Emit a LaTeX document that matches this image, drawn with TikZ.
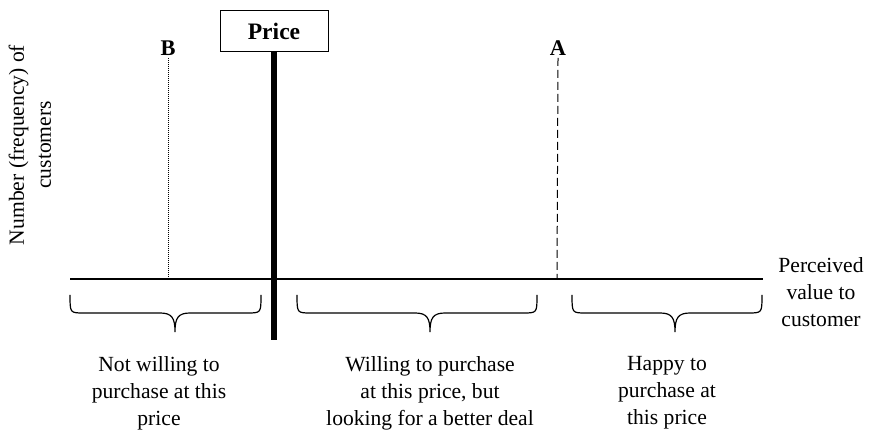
\documentclass[tikz,border=0pt]{standalone}
\usepackage{fontspec}
\setmainfont{Liberation Serif}

\tikzset{
  label text/.style={align=center, font=\fontsize{10.8}{13.5}\selectfont},
  letter/.style={font=\fontsize{11.2}{13}\selectfont\bfseries, inner sep=1pt},
  price box/.style={draw, line width=0.5pt, minimum width=54pt, minimum height=20.5pt,
    inner sep=0pt, font=\fontsize{11.8}{13}\selectfont\bfseries},
  curly/.style={line width=0.6pt},
}
% under-brace: left end, tip, right end (x), ends at y=295, tip at y=332
\newcommand{\groupbrace}[3]{%
  \draw[curly] (#1,295) .. controls (#1,313) .. ({#1+14},313) -- ({#2-15},313)
    .. controls ({#2-3},313) and (#2,318) .. (#2,332)
    .. controls (#2,318) and ({#2+3},313) .. ({#2+15},313) -- ({#3-14},313)
    .. controls (#3,313) .. (#3,295);}

\begin{document}
\begin{tikzpicture}[x=0.5pt,y=-0.5pt]
\useasboundingbox (0,0) rectangle (870,431);

% axis
\coordinate (origin) at (70,279);
\coordinate (axisend) at (763,279);
\draw[line width=0.6pt] (origin) -- (axisend);
\node[label text] (xlabel) at (821,292) {Perceived\\value to\\customer};
\node[label text, rotate=90] (ylabel) at (30,145) {Number (frequency) of\\customers};

% price
\node[price box] (price) at (274,31.5) {Price};
\coordinate (pricebot) at (274,340);
\draw[line width=2.6pt] (price.south) -- (pricebot);

% B and A
\node[letter] (B) at (168,48) {B};
\coordinate (Bfoot) at (168,279);
\draw[line width=0.35pt, dash pattern=on 0.5pt off 0.5pt] (B.south) -- (Bfoot);
\node[letter] (A) at (558,48) {A};
\coordinate (Afoot) at (557,279);
\draw[line width=0.5pt, dash pattern=on 4pt off 2pt] (A.south) -- (Afoot);

% braces
\groupbrace{70}{175}{261}
\groupbrace{297}{430}{537}
\groupbrace{572}{675}{762}

\node[label text] (notwilling) at (159,393) {Not willing to\\purchase at this\\price};
\node[label text] (willing) at (430,393) {Willing to purchase\\at this price, but\\looking for a better deal};
\node[label text] (happy) at (667,393) {Happy to\\purchase at\\this price};
\end{tikzpicture}
\end{document}
